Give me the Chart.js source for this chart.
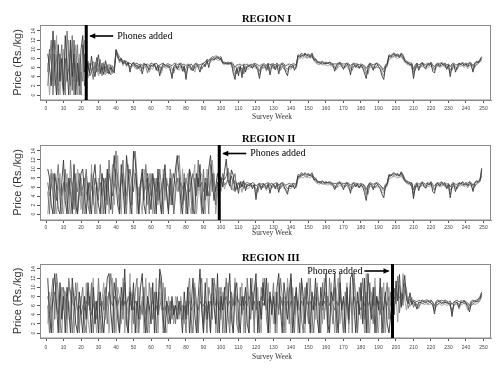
<!DOCTYPE html>
<html><head><meta charset="utf-8">
<script src="https://cdn.jsdelivr.net/npm/chart.js@4.4.1/dist/chart.umd.min.js"></script>
<style>
html,body{margin:0;padding:0;background:#fff;}
body{width:504px;height:368px;position:relative;overflow:hidden;}
canvas{position:absolute;left:0;}
</style></head><body>
<canvas id="c1" width="504" height="122" style="top:0;width:504px;height:122px"></canvas>
<canvas id="c2" width="504" height="120" style="top:122px;width:504px;height:120px"></canvas>
<canvas id="c3" width="504" height="126" style="top:242px;width:504px;height:126px"></canvas>
<script>
const weeks = Array.from({length:249},(_, i)=>i+1);
const xTicks = [0,10,20,30,40,50,60,70,80,90,100,110,120,130,140,150,160,170,180,190,200,210,220,230,240,250];
const yTicks = [0,2,4,6,8,10,12,14];
const regionTitles = ['REGION I','REGION II','REGION III'];
const phoneWeeks = [23,99,198];
const phoneText = 'Phones added';
const yTitle = 'Price (Rs./kg)';
const xTitle = 'Survey Week';

// ---------- REGION I ----------
const r1a = [
9,6,2,14,5,0,11,3,8,1,
13,6,0,12,4,9,0,7,2,10,
13,5,
6,6.5,4.8,8.5,5.2,4.0,6.8,8.8,5.0,6.2,4.5,7.5,5.8,4.6,6.0,5.5,4.8,
9.8,8.6,7.4,8.0,6.8,7.6,6.5,7.2,5.0,6.8,
7.0,6.2,6.6,5.8,6.6,4.6,6.4,6.8,6.0,5.5,
6.6,6.2,6.9,5.4,6.5,4.2,6.0,6.8,6.6,6.2,
6.5,5.8,3.6,6.2,6.7,5.6,6.6,6.8,5.2,6.4,
3.4,6.2,6.6,6.0,5.3,6.4,6.8,6.1,5.0,6.5,
6.9,6.2,7.6,6.0,7.8,8.0,7.6,8.2,8.3,7.8,
8.0,7.0,6.9,7.0,6.8,7.0,6.9,4.8,3.4,6.0,
4.2,6.4,3.8,6.6,5.0,6.4,6.2,6.6,5.8,6.8,
6.2,5.4,3.6,6.0,6.6,6.4,5.6,6.8,4.4,6.4,
6.6,5.5,6.7,4.6,6.5,6.8,6.2,5.0,4.2,6.4,
6.0,6.6,5.4,6.3,8.6,8.2,8.8,8.4,9.0,8.5,
8.8,8.2,8.9,7.6,7.8,7.2,7.0,6.9,7.2,6.8,
7.0,6.9,7.1,6.8,6.5,5.2,6.6,6.8,7.0,6.4,
5.6,6.6,6.9,6.2,4.4,6.6,6.8,6.0,6.7,5.8,
6.6,5.9,4.8,3.6,6.0,6.8,6.4,5.4,6.6,6.9,
6.2,5.6,4.2,3.4,6.2,6.8,8.6,8.2,8.8,9.0,
8.4,8.8,8.2,9.0,8.4,7.4,7.2,7.0,6.6,6.8,
3.6,6.0,6.8,5.4,6.6,7.0,6.2,5.8,6.8,6.4,
7.0,5.2,4.8,6.6,6.8,6.2,7.0,6.5,6.8,5.6,
6.6,4.0,6.4,6.8,5.0,6.2,6.9,6.6,7.0,6.4,
6.8,6.2,7.0,6.6,5.0,6.8,7.2,7.0,7.6,8.2
];
const r1b = [
2,8,12,0,9,4,0,6,11,3,
0,14,8,2,13,0,6,11,0,5,
3,9,
4,5.2,7.0,5.5,3.4,7.2,5.0,6.4,7.8,4.2,6.8,5.0,6.6,5.2,4.4,6.4,5.6,
9.2,8.0,7.8,7.4,7.2,7.0,6.9,6.6,6.2,6.4,
6.6,6.8,5.6,6.4,6.2,5.8,6.8,6.2,4.8,6.4,
6.2,6.6,6.4,6.0,5.2,6.4,5.4,6.4,6.2,6.6,
6.0,6.4,5.8,4.8,6.4,6.2,6.0,6.4,6.2,5.0,
5.8,6.6,6.2,5.4,6.4,5.8,6.4,6.6,6.2,5.6,
6.4,6.8,7.2,7.4,7.6,7.8,8.2,7.8,8.0,8.2,
7.6,7.2,7.0,6.8,7.0,6.8,7.0,6.2,5.4,4.6,
6.2,5.4,6.0,4.6,6.2,6.0,6.6,6.0,6.4,6.2,
6.6,6.0,5.2,6.4,5.8,6.2,6.6,5.4,6.2,6.8,
5.8,6.4,6.0,6.6,5.4,6.2,6.6,6.0,5.6,6.2,
6.4,6.0,6.6,6.2,8.2,8.6,8.4,8.8,8.6,8.2,
8.4,8.6,8.2,8.0,7.4,7.0,7.2,7.0,6.8,7.0,
6.8,7.0,6.8,6.6,6.8,6.2,5.6,6.6,6.8,6.6,
6.4,6.0,6.6,6.8,6.0,5.4,6.4,6.6,6.4,6.0,
6.4,6.6,6.0,5.2,4.6,6.4,6.6,6.2,5.8,6.4,
6.6,6.4,5.8,5.0,5.8,6.6,8.2,8.6,8.4,8.6,
8.8,8.4,8.6,8.6,8.0,7.6,7.0,6.8,6.8,6.2,
5.0,5.4,6.4,6.2,6.0,6.8,6.6,6.2,6.4,6.8,
6.6,6.4,5.6,6.2,6.6,6.6,6.4,6.8,6.2,6.4,
6.2,5.6,5.4,6.6,6.2,5.6,6.6,6.8,6.4,6.6,
6.6,6.6,6.4,6.8,6.2,6.0,6.8,7.2,7.4,7.8
];
const r1c = [
7,0,5,9,2,13,4,0,6,10,
2,5,12,0,7,3,11,0,9,1,
7,12,
7,3.8,5.6,6.8,7.4,4.6,5.8,4.2,6.6,5.4,7.2,4.4,5.4,6.8,5.8,4.6,6.2,
8.8,9.2,7.0,7.6,6.4,7.2,6.2,6.8,5.8,6.2,
6.4,5.8,6.2,6.0,5.2,6.0,5.8,6.2,6.4,5.0,
6.0,5.6,6.4,6.2,6.0,5.6,4.8,6.2,6.0,5.8,
6.2,5.2,4.4,5.8,6.2,6.0,5.4,6.2,6.4,5.8,
4.6,5.8,6.2,5.6,6.0,5.0,6.2,6.4,5.8,6.0,
6.2,6.4,7.0,6.8,7.2,7.6,7.8,8.0,7.6,7.6,
7.8,6.8,6.6,6.8,6.6,6.8,6.4,5.6,4.2,5.6,
5.0,6.0,4.8,5.8,6.0,5.6,5.8,6.2,6.0,6.4,
5.8,6.2,4.4,5.6,6.2,6.0,5.2,6.2,5.6,5.8,
6.2,6.0,5.6,5.8,6.0,6.4,5.6,5.6,5.0,5.8,
5.6,6.2,6.0,5.8,7.8,8.0,8.2,8.0,8.4,8.0,
8.2,8.0,8.4,7.8,7.0,6.8,6.6,6.8,6.6,6.6,
6.6,6.4,6.6,6.4,6.2,5.8,6.2,6.0,6.4,6.2,
6.0,6.2,6.4,5.6,5.2,6.2,6.2,6.4,6.0,6.2,
6.0,6.2,5.6,4.4,5.6,6.2,6.0,5.8,6.2,6.0,
6.0,6.0,5.0,4.2,6.0,6.2,7.8,8.0,8.2,8.4,
8.2,8.0,8.2,8.4,7.8,7.2,6.8,6.6,6.4,6.2,
4.4,5.8,6.2,6.0,6.2,6.4,6.0,5.6,6.2,6.0,
6.4,5.8,5.4,6.0,6.4,6.0,6.2,6.4,6.0,6.0,
5.8,4.8,6.0,6.2,5.6,6.0,6.4,6.2,6.6,6.0,
6.4,5.8,6.6,6.2,5.4,6.4,6.6,6.8,7.2,7.6
];
const r1d = [
5,10,7,3,12,8,2,9,4,0,
8,3,6,10,1,12,5,3,8,0,
11,2,
5,7.4,4.2,5.0,6.2,5.6,8.2,5.2,4.6,7.0,5.6,6.2,4.8,5.6,6.6,5.0,5.4,
10.0,9.0,8.4,7.8,7.6,7.2,7.4,6.8,7.0,6.6,
7.2,6.8,7.0,6.6,6.8,6.4,7.0,6.6,6.8,6.4,
7.0,6.8,6.6,7.0,6.4,6.6,6.8,7.0,6.4,6.8,
6.8,6.6,6.4,6.8,7.0,6.6,6.8,7.0,6.6,6.8,
6.4,6.8,6.6,6.8,6.2,6.8,7.0,6.6,6.6,6.8,
7.0,7.2,7.8,7.6,8.0,8.4,8.2,8.6,8.4,8.2,
8.4,7.2,7.2,7.0,7.2,7.0,7.2,6.8,6.0,6.6,
6.6,6.8,6.4,6.8,6.6,6.8,6.4,6.8,6.6,7.0,
6.8,6.6,6.4,6.6,6.8,6.8,6.4,7.0,6.6,6.8,
6.8,6.6,7.0,6.4,6.8,7.0,6.8,6.4,6.6,6.8,
6.6,6.8,6.8,6.6,8.8,8.6,9.2,8.8,9.2,8.8,
9.0,8.6,9.2,8.2,8.0,7.4,7.2,7.2,7.4,7.0,
7.2,7.0,7.2,7.0,6.8,6.8,6.8,7.0,7.2,6.8,
6.8,6.8,7.0,6.8,6.4,6.8,7.0,6.8,6.8,6.6,
6.8,6.6,6.4,5.8,6.4,7.0,6.8,6.6,6.8,7.0,
6.8,6.4,6.0,5.6,6.6,7.0,8.8,8.6,9.0,9.2,
8.8,9.0,8.6,9.2,8.8,7.8,7.4,7.2,7.0,7.0,
5.6,6.6,7.0,6.6,6.8,7.2,6.8,6.6,7.0,6.8,
7.2,6.6,6.2,6.8,7.0,6.8,7.2,6.8,7.0,6.6,
6.8,6.2,6.8,7.0,6.6,6.6,7.0,6.8,7.2,6.8,
7.0,6.8,7.2,7.0,6.4,7.0,7.4,7.2,7.8,8.4
];

// ---------- REGION II ----------
const r2a = [
10,8,2,0,9,6,1,0,7,12,
3,0,8,5,0,11,2,0,6,9,
10,4,0,7,3,0,8,11,5,2,
0,9,6,0,10,4,1,8,13,7,
2,0,11,6,0,13,9,3,0,14,
12,5,0,7,10,2,0,8,4,1,
9,6,0,10,3,0,7,11,4,0,
8,2,6,10,13,9,3,0,7,5,
0,10,8,1,0,9,6,11,2,0,
7,4,10,13,8,3,6,9,
7.0,8.2,6.0,9.4,12.2,7.4,6.2,9.8,8.6,5.0,
6.8,4.6,7.2,6.0,7.4,5.2,6.6,6.2,6.8,5.6,
6.6,3.2,6.2,6.8,5.4,6.6,6.4,5.6,6.8,4.6,
6.4,6.6,5.6,6.8,4.8,6.6,6.8,6.2,5.2,4.4,
6.4,6.0,6.6,5.6,6.4,8.4,8.2,8.8,8.6,9.0,
8.6,8.8,8.4,8.8,7.6,7.8,7.2,7.0,6.9,7.2,
6.8,7.0,6.9,7.0,6.8,6.4,5.4,6.6,6.8,7.0,
6.4,5.4,6.6,6.9,6.2,4.6,6.6,6.8,6.0,6.7,
5.8,6.6,6.0,4.8,3.0,6.0,6.8,6.4,5.4,6.6,
6.8,6.2,5.6,4.4,3.6,6.2,6.8,8.6,8.4,8.8,
9.0,8.6,8.8,8.4,9.2,8.4,7.4,7.2,7.0,6.6,
6.8,3.4,6.0,6.8,5.2,6.6,7.0,6.2,5.8,6.8,
6.4,7.0,5.0,4.6,6.6,6.8,6.2,7.0,6.5,6.8,
5.6,6.6,3.6,6.4,6.8,5.0,6.2,6.9,6.6,7.0,
6.4,6.8,6.2,7.0,6.6,5.0,6.8,7.2,7.0,7.4,
9.8
];
const r2b = [
5,0,9,4,0,7,11,3,0,6,
10,2,0,12,6,1,9,0,4,8,
0,6,10,2,0,9,4,0,7,3,
11,5,0,8,2,12,6,0,9,14,
6,1,8,12,4,0,10,7,2,13,
14,8,0,5,9,3,11,6,0,9,
4,0,8,3,10,6,0,9,5,1,
10,6,0,4,12,13,7,2,9,0,
6,10,3,0,8,4,12,5,0,10,
3,8,0,11,5,9,2,7,
5.6,6.2,9.0,7.6,8.4,10.2,6.8,5.4,7.6,9.0,
5.4,7.0,5.8,6.8,5.6,6.8,6.0,6.6,6.2,6.4,
6.2,5.6,4.8,6.4,6.2,5.8,6.6,6.2,6.0,6.6,
5.8,6.4,6.2,6.0,6.4,5.6,6.4,6.6,6.2,5.6,
6.2,6.4,6.0,6.6,6.2,8.0,8.6,8.4,8.8,8.6,
8.2,8.6,8.8,8.2,8.0,7.4,7.0,7.2,7.0,6.8,
7.0,6.8,7.0,6.8,6.6,6.8,6.2,5.8,6.6,6.8,
6.6,6.4,6.0,6.6,6.8,6.0,5.6,6.4,6.6,6.4,
6.0,6.4,6.6,6.0,5.0,4.4,6.4,6.6,6.2,5.8,
6.4,6.6,6.4,5.8,5.2,5.8,6.6,8.2,8.8,8.4,
8.6,8.8,8.4,8.6,8.8,8.0,7.6,7.0,6.8,6.8,
6.2,4.6,5.6,6.4,6.2,6.0,6.8,6.6,6.2,6.4,
6.8,6.6,6.4,5.4,6.2,6.6,6.6,6.4,6.8,6.2,
6.4,6.2,5.4,5.6,6.6,6.2,5.6,6.6,6.8,6.4,
6.6,6.6,6.6,6.4,6.8,6.2,6.0,6.8,7.2,7.6,
8.4
];
const r2c = [
0,6,10,8,3,0,5,9,2,0,
6,9,3,0,7,4,0,10,8,1,
5,0,9,6,0,11,2,6,0,8,
6,0,7,3,9,0,5,11,2,8,
13,4,0,9,5,2,11,0,7,10,
8,0,6,3,0,10,7,2,9,5,
0,8,4,2,7,0,10,3,8,6,
2,9,0,7,5,8,0,10,3,7,
9,2,0,7,11,0,5,8,9,3,
0,10,6,4,12,7,0,5,
8.4,5.0,7.2,5.6,6.6,8.0,9.2,6.0,5.2,7.2,
6.2,5.6,6.6,4.8,6.4,6.0,5.6,5.8,6.2,6.0,
6.4,4.2,5.6,6.2,6.0,6.2,6.0,5.2,6.2,5.6,
5.8,6.2,6.0,5.6,5.8,6.0,6.4,5.6,5.6,5.0,
5.8,5.6,6.2,6.0,5.8,7.8,8.0,8.2,8.0,8.4,
8.0,8.2,8.0,8.4,7.8,7.0,6.8,6.6,6.8,6.6,
6.6,6.6,6.4,6.6,6.4,6.2,5.8,6.2,6.0,6.4,
6.2,6.0,6.2,6.4,5.6,5.2,6.2,6.2,6.4,6.0,
6.2,6.0,6.2,5.6,4.2,5.6,6.2,6.0,5.8,6.2,
6.0,6.0,6.0,5.0,4.6,6.0,6.2,7.8,8.0,8.2,
8.4,8.2,8.0,8.2,8.4,7.8,7.2,6.8,6.6,6.4,
6.2,4.0,5.8,6.2,6.0,6.2,6.4,6.0,5.6,6.2,
6.0,6.4,5.8,5.2,6.0,6.4,6.0,6.2,6.4,6.0,
6.0,5.8,4.4,6.0,6.2,5.6,6.0,6.4,6.2,6.6,
6.0,6.4,5.8,6.6,6.2,5.4,6.4,6.6,6.8,7.2,
9.0
];
const r2d = [
7,4,6,9,5,3,8,6,4,7,
5,7,4,8,6,3,7,5,9,4,
6,8,5,3,7,6,4,8,6,5,
7,4,8,6,5,9,7,4,6,10,
8,5,7,9,6,4,8,10,7,5,
9,6,4,7,8,5,6,9,7,4,
6,8,5,7,4,6,8,5,7,6,
4,7,9,6,8,5,7,6,4,8,
6,5,7,9,6,4,8,6,7,5,
8,6,4,7,9,6,5,7,
6.6,7.2,8.0,6.4,7.0,7.6,7.0,8.4,6.8,7.4,
7.0,6.6,6.8,7.2,6.6,6.8,7.0,6.8,6.6,7.0,
6.8,6.2,6.6,6.8,6.6,6.8,6.6,6.8,7.0,6.6,
6.8,6.6,6.8,7.0,6.4,6.8,7.0,6.8,6.4,6.6,
6.8,6.6,6.8,6.8,6.6,8.8,8.6,9.2,8.8,9.2,
8.8,9.0,8.6,9.2,8.2,8.0,7.4,7.2,7.2,7.4,
7.0,7.2,7.0,7.2,7.0,6.8,6.8,6.8,7.0,7.2,
6.8,6.8,6.8,7.0,6.8,6.4,6.8,7.0,6.8,6.8,
6.6,6.8,6.6,6.4,5.4,6.4,7.0,6.8,6.6,6.8,
7.0,6.8,6.4,6.0,5.6,6.6,7.0,8.8,8.6,9.0,
9.2,8.8,9.0,8.6,9.4,8.8,7.8,7.4,7.2,7.0,
7.0,5.4,6.6,7.0,6.6,6.8,7.2,6.8,6.6,7.0,
6.8,7.2,6.6,6.2,6.8,7.0,6.8,7.2,6.8,7.0,
6.6,6.8,6.0,6.8,7.0,6.6,6.6,7.0,6.8,7.2,
6.8,7.0,6.8,7.2,7.0,6.4,7.0,7.4,7.2,7.8,
10.2
];

// ---------- REGION III ----------
const r3a = [
12,4,0,9,13,6,0,11,3,8,
0,10,5,0,12,7,2,0,9,4,
0,8,3,11,6,0,10,2,7,0,
9,4,0,6,12,13,5,0,11,8,
3,0,10,6,14,2,0,9,5,11,
0,7,3,10,13,4,0,8,6,2,
11,0,9,4,14,12,3,0,7,5,
2,8,4,6,3,7,5,0,9,3,
10,0,6,12,4,0,8,14,5,0,
11,3,7,0,12,6,2,13,0,8,
5,10,0,7,13,3,0,9,11,4,
0,8,6,10,2,0,12,5,9,13,
0,7,3,11,6,12,0,9,4,8,
2,10,13,5,0,11,7,3,9,13,
0,6,10,4,0,12,8,2,11,6,
0,9,5,12,3,0,10,6,8,13,
2,0,9,7,13,4,0,11,5,8,
0,10,3,12,13,6,0,9,4,11,
2,12,0,13,7,3,10,0,8,5,
12,0,6,9,2,0,4,
6.2,4.0,11.4,7.0,12.8,5.6,9.4,12.6,7.2,6.4,
8.8,6.2,7.0,6.4,5.2,6.8,6.6,7.0,6.8,6.6,
7.0,6.8,6.6,6.2,4.2,6.6,6.8,7.0,6.4,6.8,
6.6,6.8,6.4,6.6,3.6,6.4,6.8,6.6,5.6,6.8,
6.6,7.0,6.4,5.8,4.6,6.6,6.8,7.0,6.8,7.2,
7.6,8.6
];
const r3b = [
6,0,8,12,3,13,9,2,0,10,
7,3,12,8,0,5,11,4,0,7,
10,2,0,9,5,11,0,6,3,12,
4,0,8,10,2,7,13,9,0,12,
6,0,7,3,11,5,0,10,8,2,
9,12,0,6,4,10,2,0,11,7,
3,9,0,6,13,8,0,10,4,2,
7,3,6,2,8,4,7,3,6,0,
8,12,3,0,10,7,0,9,12,2,
6,0,10,8,3,12,9,0,6,10,
0,7,12,4,0,9,6,11,2,0,
10,4,8,0,12,6,3,9,0,11,
5,0,10,7,12,3,0,8,6,11,
0,9,4,12,8,0,6,10,2,12,
7,0,9,5,11,3,0,10,6,2,
12,4,0,8,10,6,0,11,3,9,
0,12,6,2,10,0,8,13,4,0,
9,6,2,11,0,13,5,0,10,7,
12,3,9,0,11,6,2,10,0,7,
4,10,0,8,11,3,9,
5.0,9.8,6.4,12.4,4.4,8.6,6.0,11.0,9.6,5.4,
6.6,7.8,5.6,6.8,6.0,5.4,6.8,6.4,6.6,7.0,
6.4,6.6,7.0,6.6,5.4,5.8,6.4,6.6,6.8,6.4,
7.0,6.4,6.6,5.8,5.0,6.0,6.4,6.8,6.2,6.4,
6.8,6.4,6.6,6.2,5.4,6.0,6.4,6.6,7.0,6.8,
7.4,8.2
];
const r3c = [
2,9,6,0,7,11,4,0,10,5,
9,0,7,3,10,0,6,11,2,8,
5,0,11,3,0,8,12,4,0,9,
0,7,11,3,8,0,6,12,5,0,
10,8,2,12,0,7,4,13,0,9,
6,0,10,3,8,0,12,5,0,10,
7,3,12,0,9,5,11,2,0,8,
5,7,2,8,6,3,8,5,2,7,
4,9,0,7,11,3,0,10,6,0,
9,12,4,0,8,11,0,7,10,3,
9,0,6,11,2,8,0,12,6,0,
7,11,0,5,9,0,8,12,3,6,
10,3,0,12,8,5,11,0,7,2,
9,0,11,6,3,8,0,12,7,0,
10,4,8,0,6,11,3,0,9,12,
5,0,8,3,11,0,7,2,12,5,
8,0,11,5,0,9,12,2,7,0,
6,11,0,8,4,12,9,0,6,3,
8,0,13,5,0,9,6,12,3,0,
8,5,11,0,7,10,3,
7.6,6.0,8.2,2.4,10.4,6.2,13.0,7.4,5.0,8.0,
5.8,6.6,6.4,5.8,6.4,6.0,6.2,6.6,6.2,6.4,
6.2,6.2,6.4,6.0,4.8,6.2,6.2,6.4,6.0,6.2,
6.4,6.0,6.2,6.0,4.2,5.8,6.2,6.4,5.2,6.2,
6.2,6.6,6.0,5.0,5.6,6.2,6.4,6.2,6.4,6.6,
7.0,8.0
];
const r3d = [
8,6,5,7,9,6,4,8,10,9,
9,8,10,9,7,6,8,5,6,4,
6,5,7,6,8,4,6,7,5,8,
6,7,5,8,6,9,7,6,8,7,
6,8,7,5,7,6,8,6,7,5,
7,6,8,5,7,6,4,7,5,6,
7,5,6,4,6,7,5,6,4,6,
5,6,4,6,5,6,5,6,5,6,
6,7,5,6,7,6,5,7,6,6,
7,6,5,7,6,8,6,7,5,7,
6,7,8,6,7,5,7,6,8,7,
6,7,5,7,6,8,7,6,7,5,
7,6,8,6,7,5,7,8,6,7,
6,7,5,8,6,7,6,7,5,7,
6,8,6,7,5,7,6,8,7,6,
7,5,7,6,8,6,7,5,7,6,
8,6,7,6,5,7,6,8,6,7,
6,7,5,7,6,8,6,7,6,5,
7,6,8,6,7,5,7,6,8,6,
7,6,5,7,6,8,6,
6.8,7.4,9.0,8.2,7.6,8.8,7.2,9.6,8.0,7.0,
7.4,6.8,7.2,7.0,6.8,7.2,7.0,7.2,7.0,7.2,
7.2,7.0,7.2,6.8,6.0,7.0,7.2,7.0,7.2,7.0,
7.2,7.0,6.8,7.0,6.2,6.8,7.0,7.2,6.8,7.0,
7.0,7.2,6.8,6.6,6.0,7.0,7.2,7.0,7.2,7.4,
8.0,9.0
];

const seriesColors = ['#383838','#6e6e6e','#9a9a9a','#555555'];

function drawArrow(ctx, tailX, tipX, y){
  ctx.beginPath(); ctx.moveTo(tailX, y); ctx.lineTo(tipX, y);
  ctx.lineWidth = 1.6; ctx.stroke();
  const d = Math.sign(tipX - tailX);
  ctx.beginPath(); ctx.moveTo(tipX + d, y); ctx.lineTo(tipX - d*5, y - 2.8); ctx.lineTo(tipX - d*5, y + 2.8); ctx.closePath(); ctx.fill();
}

function makePanel(id, idx, series, g){
  const el = document.getElementById(id);
  const H = el.height;
  const datasets = series.map((s,i)=>({data:s, borderColor:seriesColors[i], borderWidth:0.9, pointRadius:0, tension:0, fill:false}));
  const deco = {
    id:'deco'+idx,
    afterDatasetsDraw(chart){
      const {ctx, chartArea:a} = chart; const x = chart.scales.x;
      ctx.save();
      ctx.strokeStyle='#8a8a8a'; ctx.lineWidth=1;
      ctx.strokeRect(a.left+0.5, a.top+0.5, a.right-a.left-1, a.bottom-a.top-0.5);
      const px = x.getPixelForValue(phoneWeeks[idx]);
      ctx.fillStyle='#000'; ctx.fillRect(px-1.5, a.top, 3, a.bottom-a.top);
      ctx.strokeStyle='#000';
      const ay = a.top + g.arrowDy;
      ctx.font = '10px "Liberation Serif", serif';
      ctx.textBaseline='middle';
      if (g.dir < 0){ drawArrow(ctx, px+27, px+4, ay); ctx.textAlign='left'; ctx.fillText(phoneText, px+31, ay); }
      else { drawArrow(ctx, px-28, px-4, ay); ctx.textAlign='right'; ctx.fillText(phoneText, px-30, ay); }
      ctx.textAlign='left';
      ctx.font='bold 10.5px "Liberation Serif", serif';
      ctx.fillText(regionTitles[idx], 242, g.titleY);
      ctx.font='7.5px "Liberation Serif", serif'; ctx.fillStyle='#333';
      ctx.fillText(xTitle, 252, g.swY);
      ctx.translate(18, (a.top+a.bottom)/2); ctx.rotate(-Math.PI/2);
      ctx.font='11px "Liberation Sans", Arial, sans-serif'; ctx.textAlign='center'; ctx.fillStyle='#333';
      ctx.fillText(yTitle, 0, 0);
      ctx.restore();
    }
  };
  new Chart(el, {
    type:'line',
    data:{labels:weeks, datasets},
    options:{
      responsive:false, animation:false, devicePixelRatio:1,
      layout:{padding:{top:g.boxTop, right:13, left:0, bottom:0}},
      plugins:{legend:{display:false}, tooltip:{enabled:false}},
      scales:{
        x:{type:'linear', min:-3.43, max:254.29,
          afterBuildTicks:s=>{s.ticks = xTicks.map(v=>({value:v}));},
          afterFit:s=>{s.height = H - g.boxBottom;},
          grid:{display:true, drawOnChartArea:false, drawTicks:true, tickLength:3, color:'#555'},
          border:{display:true, color:'#8a8a8a'},
          ticks:{font:{size:5, family:'"Liberation Sans", Arial, sans-serif'}, color:'#444', padding:g.tickPad, minRotation:0, maxRotation:0, autoSkip:false}},
        y:{type:'linear', min:g.yMin, max:g.yMax,
          afterBuildTicks:s=>{s.ticks = yTicks.map(v=>({value:v}));},
          afterFit:s=>{s.width = 40;},
          grid:{display:true, drawOnChartArea:false, drawTicks:true, tickLength:3, color:'#555'},
          border:{display:true, color:'#8a8a8a'},
          ticks:{font:{size:5, family:'"Liberation Sans", Arial, sans-serif'}, color:'#444', padding:1, minRotation:90, maxRotation:90, crossAlign:'center', autoSkip:false}}
      }
    },
    plugins:[deco]
  });
}

makePanel('c1', 0, [r1a,r1b,r1c,r1d], {boxTop:25, boxBottom:100, yMin:-1.09, yMax:15.31, tickPad:3, titleY:19, swY:117, arrowDy:11, dir:-1});
makePanel('c2', 1, [r2a,r2b,r2c,r2d], {boxTop:23, boxBottom:98, yMin:-1.33, yMax:15.33, tickPad:2, titleY:17, swY:111, arrowDy:8.5, dir:-1});
makePanel('c3', 2, [r3a,r3b,r3c,r3d], {boxTop:22, boxBottom:96, yMin:-1.09, yMax:15.09, tickPad:4, titleY:16, swY:115, arrowDy:7, dir:1});
</script>
</body></html>
